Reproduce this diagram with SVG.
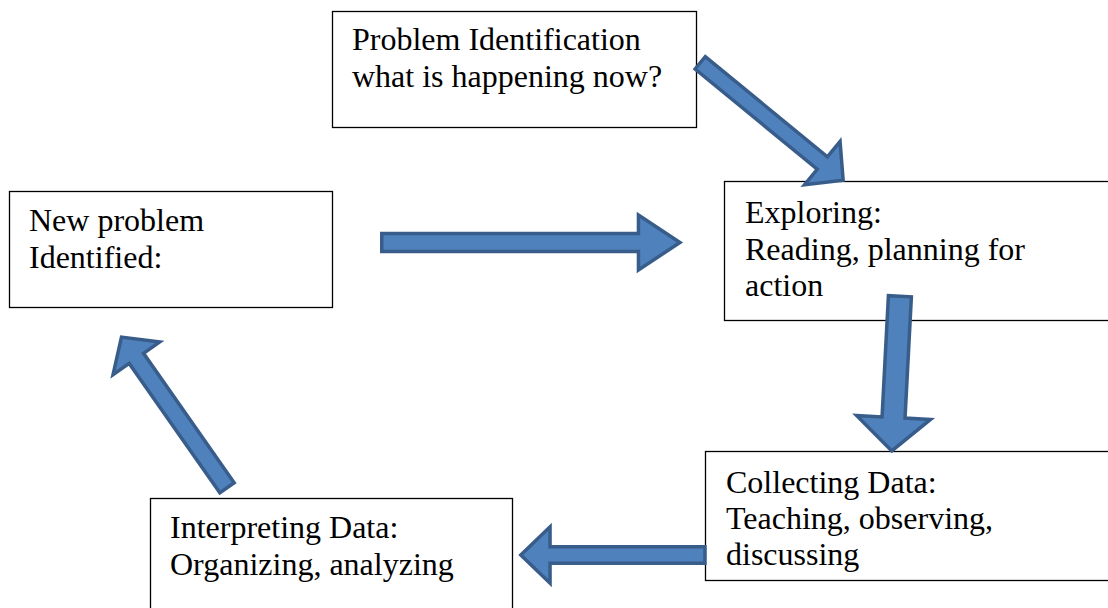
<svg xmlns="http://www.w3.org/2000/svg" width="1108" height="608" viewBox="0 0 1108 608">
<style>
.box{fill:#fff;stroke:#000;stroke-width:1.3}
.t{font-family:"Liberation Serif","Times New Roman",serif;font-size:32px;fill:#000}
.arr{fill:#4F81BD;stroke:#385D8A;stroke-width:3.5;stroke-linejoin:miter}
</style>
<rect width="1108" height="608" fill="#fff"/>
<g id="problem-identification">
<rect class="box" x="332.5" y="11.5" width="364" height="116"/>
<text class="t" x="352" y="50">Problem Identification</text>
<text class="t" x="352" y="87">what is happening now?</text>
</g>
<g id="exploring">
<rect class="box" x="724.5" y="181.5" width="400" height="139"/>
<text class="t" x="745" y="223">Exploring:</text>
<text class="t" x="745" y="259.5">Reading, planning for</text>
<text class="t" x="745" y="296">action</text>
</g>
<g id="collecting-data">
<rect class="box" x="705.5" y="451.5" width="420" height="129"/>
<text class="t" x="726" y="493">Collecting Data:</text>
<text class="t" x="726" y="529">Teaching, observing,</text>
<text class="t" x="726" y="565">discussing</text>
</g>
<g id="interpreting-data">
<rect class="box" x="150.5" y="498.5" width="362" height="130"/>
<text class="t" x="170" y="538">Interpreting Data:</text>
<text class="t" x="170" y="575">Organizing, analyzing</text>
</g>
<g id="new-problem">
<rect class="box" x="9.5" y="191.5" width="323" height="116"/>
<text class="t" x="29" y="231">New problem</text>
<text class="t" x="29" y="268">Identified:</text>
</g>
<g id="connectors">
<path class="arr" transform="translate(700.2,62.8) rotate(39.4)" d="M0,-8 L158,-8 L158,-28 L185,0 L158,28 L158,8 L0,8 Z"/>
<path class="arr" transform="translate(381.75,242.5)" d="M0,-9 L256.7,-9 L256.7,-27.4 L298.2,0 L256.7,27.4 L256.7,9 L0,9 Z"/>
<path class="arr" transform="translate(899.9,296.25) rotate(93)" d="M0,-11.5 L121.4,-11.5 L121.4,-37 L154.9,0 L121.4,37 L121.4,11.5 L0,11.5 Z"/>
<path class="arr" transform="translate(704.95,555) rotate(180)" d="M0,-8.25 L154.9,-8.25 L154.9,-28.25 L184.15,0 L154.9,28.25 L154.9,8.25 L0,8.25 Z"/>
<path class="arr" transform="translate(227,487.8) rotate(-125)" d="M0,-8.75 L158,-8.75 L158,-28.5 L184,0 L158,28.5 L158,8.75 L0,8.75 Z"/>
</g>
</svg>
